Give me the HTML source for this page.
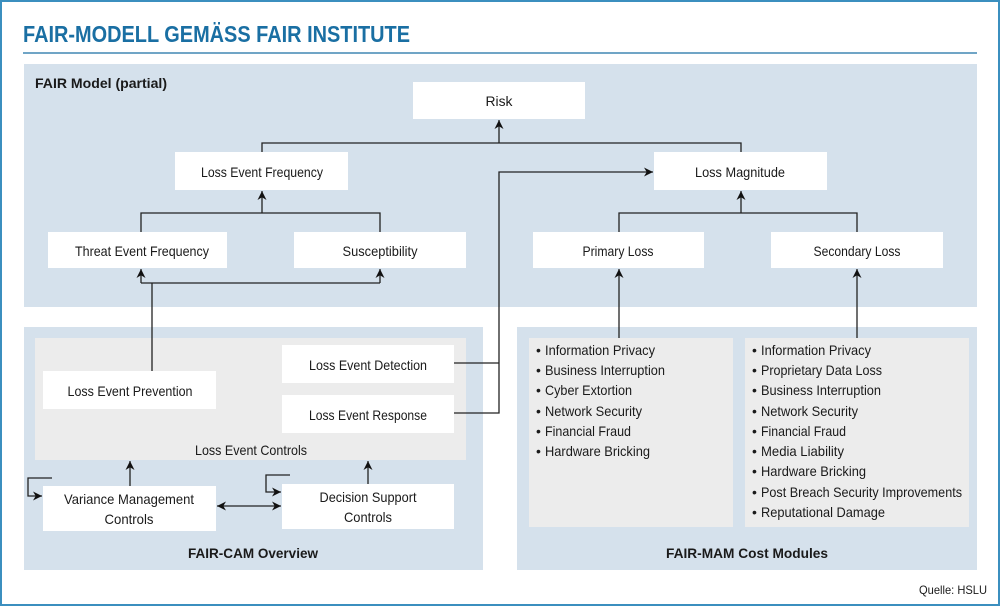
<!DOCTYPE html>
<html><head><meta charset="utf-8"><style>
html,body{margin:0;padding:0;background:#fff}
svg{display:block}
text{font-family:"Liberation Sans",sans-serif;fill:#1a1a1a}
</style></head><body>
<svg width="1000" height="606" viewBox="0 0 1000 606" xmlns="http://www.w3.org/2000/svg">
<defs>
<marker id="a" viewBox="0 0 10 10" refX="10" refY="5" markerWidth="10" markerHeight="9" orient="auto-start-reverse" markerUnits="userSpaceOnUse"><path d="M0,0 L10,5 L0,10 L3,5 z" fill="#111"/></marker>
</defs>
<rect x="1" y="1" width="998" height="604" fill="#fff" stroke="#3b8fbf" stroke-width="2"/>
<text x="23" y="42" font-size="23" font-weight="bold" style="fill:#1a6fa3" textLength="387" lengthAdjust="spacingAndGlyphs">FAIR-MODELL GEMÄSS FAIR INSTITUTE</text>
<line x1="23" y1="53" x2="977" y2="53" stroke="#1a6fa3" stroke-width="1.2"/>

<rect x="24" y="64" width="953" height="243" fill="#d5e1ec"/>
<rect x="24" y="327" width="459" height="243" fill="#d5e1ec"/>
<rect x="517" y="327" width="460" height="243" fill="#d5e1ec"/>
<rect x="35" y="338" width="431" height="122" fill="#ececec"/>
<rect x="529" y="338" width="204" height="189" fill="#ececec"/>
<rect x="745" y="338" width="224" height="189" fill="#ececec"/>

<text x="35" y="88" font-size="14" font-weight="bold" textLength="132" lengthAdjust="spacingAndGlyphs">FAIR Model (partial)</text>

<g fill="#fff">
<rect x="413" y="82" width="172" height="37"/>
<rect x="175" y="152" width="173" height="38"/>
<rect x="654" y="152" width="173" height="38"/>
<rect x="48" y="232" width="179" height="36"/>
<rect x="294" y="232" width="172" height="36"/>
<rect x="533" y="232" width="171" height="36"/>
<rect x="771" y="232" width="172" height="36"/>
<rect x="43" y="371" width="173" height="38"/>
<rect x="282" y="345" width="172" height="38"/>
<rect x="282" y="395" width="172" height="38"/>
<rect x="43" y="486" width="173" height="45"/>
<rect x="282" y="484" width="172" height="45"/>
</g>

<g font-size="14" text-anchor="middle">
<text x="499" y="106" textLength="27" lengthAdjust="spacingAndGlyphs">Risk</text>
<text x="262" y="177" textLength="122" lengthAdjust="spacingAndGlyphs">Loss Event Frequency</text>
<text x="740" y="177" textLength="90" lengthAdjust="spacingAndGlyphs">Loss Magnitude</text>
<text x="142" y="256" textLength="134" lengthAdjust="spacingAndGlyphs">Threat Event Frequency</text>
<text x="380" y="256" textLength="75" lengthAdjust="spacingAndGlyphs">Susceptibility</text>
<text x="618" y="256" textLength="71" lengthAdjust="spacingAndGlyphs">Primary Loss</text>
<text x="857" y="256" textLength="87" lengthAdjust="spacingAndGlyphs">Secondary Loss</text>
<text x="130" y="396" textLength="125" lengthAdjust="spacingAndGlyphs">Loss Event Prevention</text>
<text x="368" y="370" textLength="118" lengthAdjust="spacingAndGlyphs">Loss Event Detection</text>
<text x="368" y="420" textLength="118" lengthAdjust="spacingAndGlyphs">Loss Event Response</text>
<text x="251" y="455" textLength="112" lengthAdjust="spacingAndGlyphs">Loss Event Controls</text>
<text x="129" y="504" textLength="130" lengthAdjust="spacingAndGlyphs">Variance Management</text>
<text x="129" y="524" textLength="49" lengthAdjust="spacingAndGlyphs">Controls</text>
<text x="368" y="502" textLength="97" lengthAdjust="spacingAndGlyphs">Decision Support</text>
<text x="368" y="522" textLength="48" lengthAdjust="spacingAndGlyphs">Controls</text>
<text x="253" y="558" font-weight="bold" textLength="130" lengthAdjust="spacingAndGlyphs">FAIR-CAM Overview</text>
<text x="747" y="558" font-weight="bold" textLength="162" lengthAdjust="spacingAndGlyphs">FAIR-MAM Cost Modules</text>
</g>

<g font-size="14">
<text x="536" y="355">•</text><text x="545" y="355" textLength="110" lengthAdjust="spacingAndGlyphs">Information Privacy</text>
<text x="536" y="375">•</text><text x="545" y="375" textLength="120" lengthAdjust="spacingAndGlyphs">Business Interruption</text>
<text x="536" y="395">•</text><text x="545" y="395" textLength="87" lengthAdjust="spacingAndGlyphs">Cyber Extortion</text>
<text x="536" y="416">•</text><text x="545" y="416" textLength="97" lengthAdjust="spacingAndGlyphs">Network Security</text>
<text x="536" y="436">•</text><text x="545" y="436" textLength="86" lengthAdjust="spacingAndGlyphs">Financial Fraud</text>
<text x="536" y="456">•</text><text x="545" y="456" textLength="105" lengthAdjust="spacingAndGlyphs">Hardware Bricking</text>

<text x="752" y="355">•</text><text x="761" y="355" textLength="110" lengthAdjust="spacingAndGlyphs">Information Privacy</text>
<text x="752" y="375">•</text><text x="761" y="375" textLength="121" lengthAdjust="spacingAndGlyphs">Proprietary Data Loss</text>
<text x="752" y="395">•</text><text x="761" y="395" textLength="120" lengthAdjust="spacingAndGlyphs">Business Interruption</text>
<text x="752" y="416">•</text><text x="761" y="416" textLength="97" lengthAdjust="spacingAndGlyphs">Network Security</text>
<text x="752" y="436">•</text><text x="761" y="436" textLength="85" lengthAdjust="spacingAndGlyphs">Financial Fraud</text>
<text x="752" y="456">•</text><text x="761" y="456" textLength="83" lengthAdjust="spacingAndGlyphs">Media Liability</text>
<text x="752" y="476">•</text><text x="761" y="476" textLength="105" lengthAdjust="spacingAndGlyphs">Hardware Bricking</text>
<text x="752" y="497">•</text><text x="761" y="497" textLength="201" lengthAdjust="spacingAndGlyphs">Post Breach Security Improvements</text>
<text x="752" y="517">•</text><text x="761" y="517" textLength="124" lengthAdjust="spacingAndGlyphs">Reputational Damage</text>
</g>

<text x="987" y="594" font-size="12" text-anchor="end" textLength="68" lengthAdjust="spacingAndGlyphs">Quelle: HSLU</text>

<g stroke="#222" stroke-width="1.3" fill="none">
<polyline points="262,152 262,143 741,143 741,152"/>
<line x1="499" y1="143" x2="499" y2="120" marker-end="url(#a)"/>
<polyline points="141,232 141,213 380,213 380,232"/>
<line x1="262" y1="213" x2="262" y2="191" marker-end="url(#a)"/>
<polyline points="619,232 619,213 857,213 857,232"/>
<line x1="741" y1="213" x2="741" y2="191" marker-end="url(#a)"/>
<line x1="141" y1="283" x2="141" y2="269" marker-end="url(#a)"/>
<line x1="380" y1="283" x2="380" y2="269" marker-end="url(#a)"/>
<line x1="141" y1="283" x2="380" y2="283"/>
<line x1="152" y1="283" x2="152" y2="371"/>
<line x1="619" y1="338" x2="619" y2="269" marker-end="url(#a)"/>
<line x1="857" y1="338" x2="857" y2="269" marker-end="url(#a)"/>
<polyline points="454,363 499,363"/>
<polyline points="454,413 499,413 499,172 653,172" marker-end="url(#a)"/>
<line x1="130" y1="486" x2="130" y2="461" marker-end="url(#a)"/>
<line x1="368" y1="484" x2="368" y2="461" marker-end="url(#a)"/>
<line x1="217" y1="506" x2="281" y2="506" marker-start="url(#a)" marker-end="url(#a)"/>
<polyline points="52,478 28,478 28,496 42,496" marker-end="url(#a)"/>
<polyline points="290,475 266,475 266,492 281,492" marker-end="url(#a)"/>
</g>
</svg>
</body></html>
